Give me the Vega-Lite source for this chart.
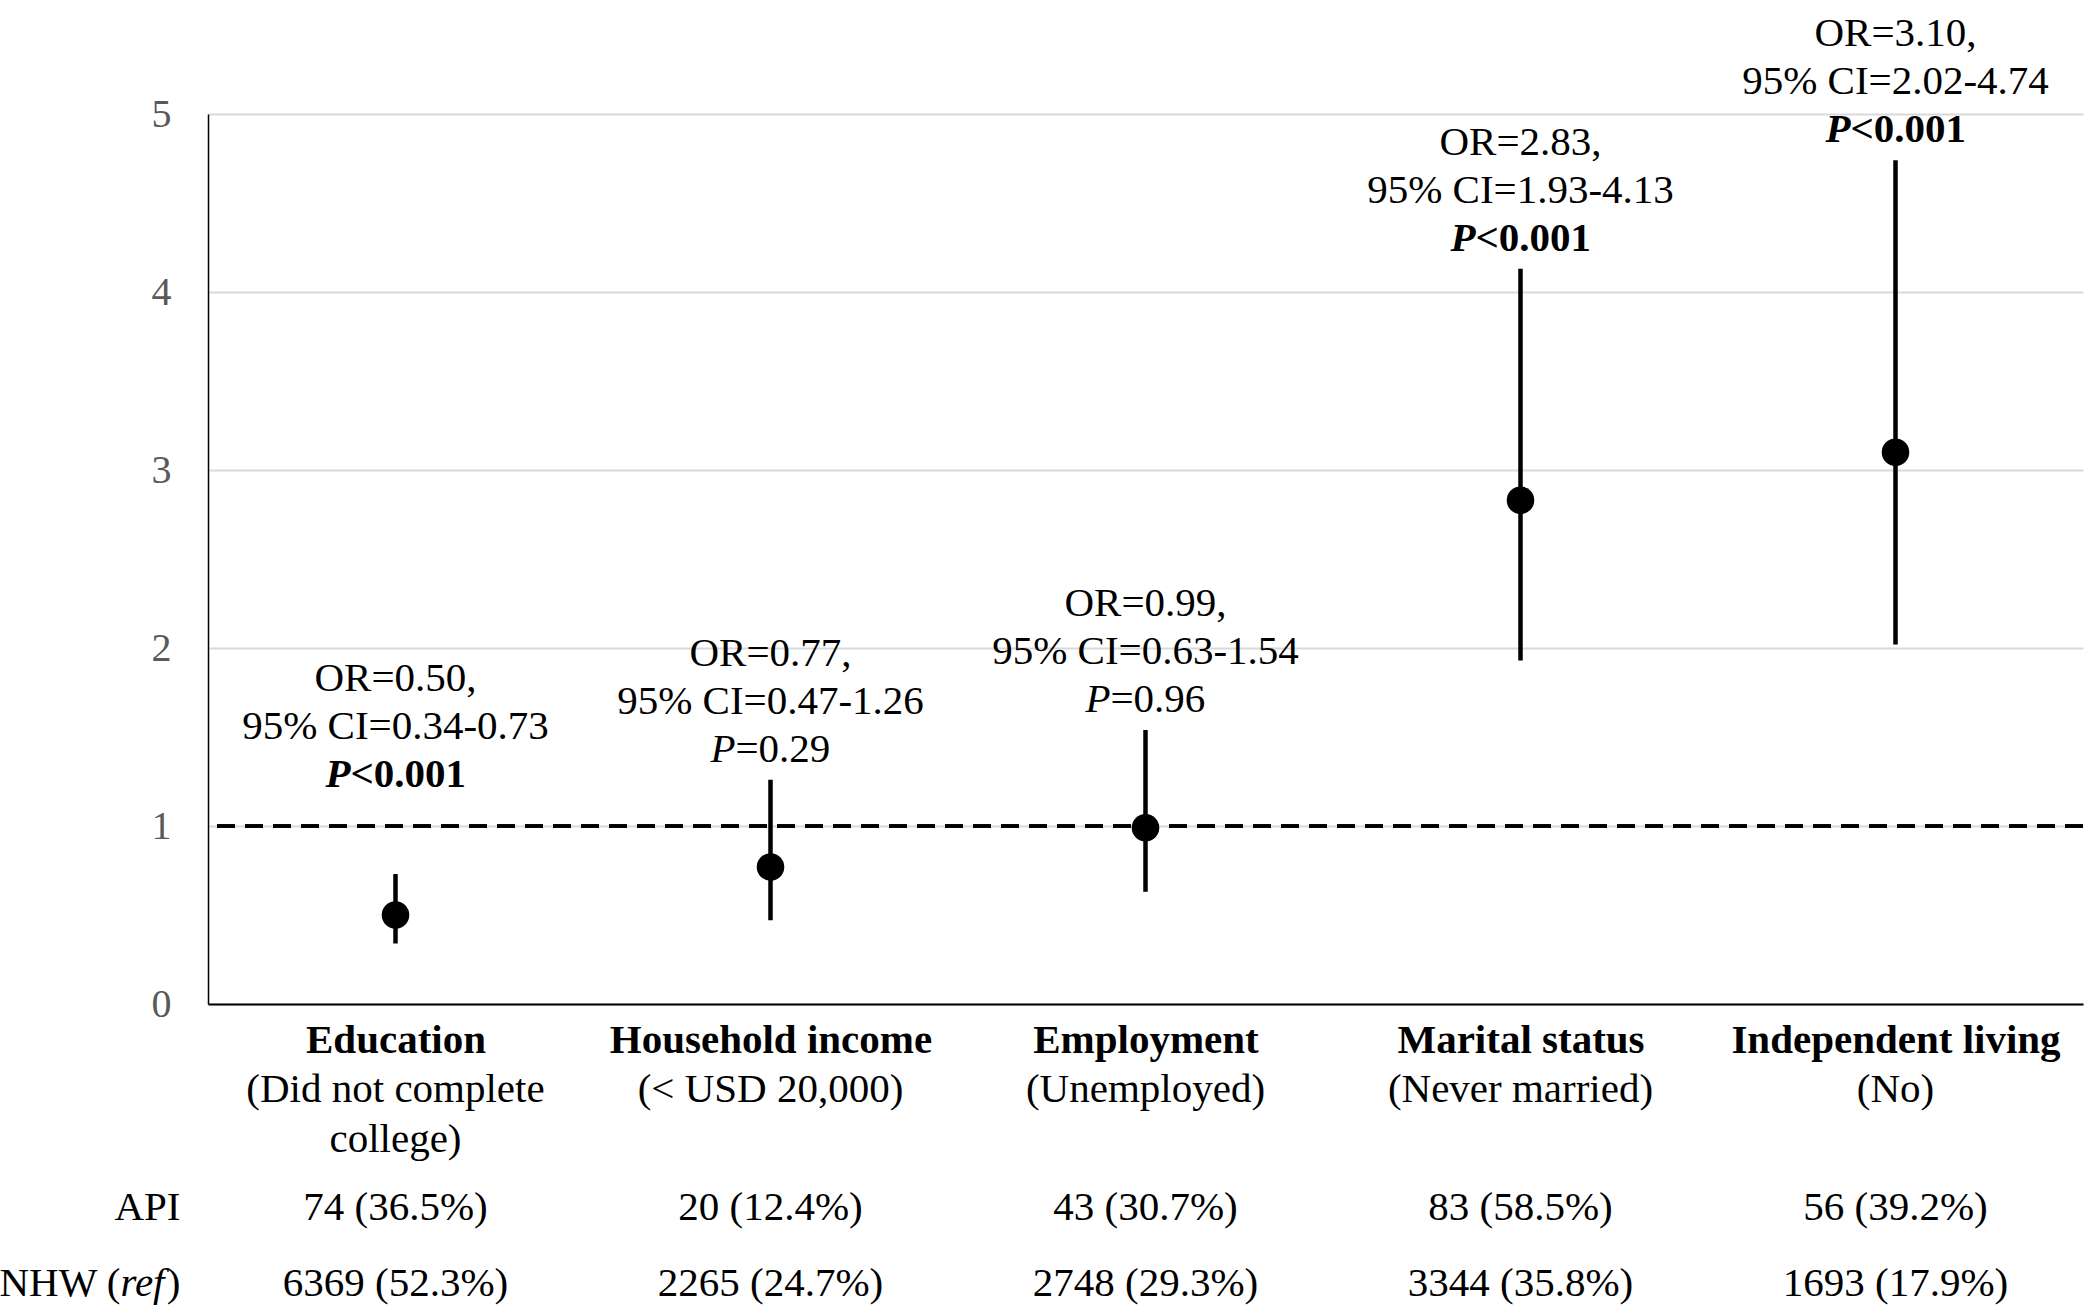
{
  "$schema": "https://vega.github.io/schema/vega-lite/v6.json",
  "width": 1875,
  "height": 890,
  "autosize": {"type": "none"},
  "padding": {"left": 208, "top": 114, "right": 17, "bottom": 301},
  "background": "white",
  "config": {
    "view": {"stroke": null},
    "font": "Liberation Serif",
    "text": {"font": "Liberation Serif", "fontSize": 41, "color": "#000000"}
  },
  "data": {
    "values": [
      {"cat": "Education", "sub": "(Did not complete\ncollege)", "or": 0.50, "lo": 0.34, "hi": 0.73, "orLabel": "OR=0.50,", "ciLabel": "95% CI=0.34-0.73", "pText": "<0.001", "sig": true, "api": "74 (36.5%)", "nhw": "6369 (52.3%)"},
      {"cat": "Household income", "sub": "(< USD 20,000)", "or": 0.77, "lo": 0.47, "hi": 1.26, "orLabel": "OR=0.77,", "ciLabel": "95% CI=0.47-1.26", "pText": "=0.29", "sig": false, "api": "20 (12.4%)", "nhw": "2265 (24.7%)"},
      {"cat": "Employment", "sub": "(Unemployed)", "or": 0.99, "lo": 0.63, "hi": 1.54, "orLabel": "OR=0.99,", "ciLabel": "95% CI=0.63-1.54", "pText": "=0.96", "sig": false, "api": "43 (30.7%)", "nhw": "2748 (29.3%)"},
      {"cat": "Marital status", "sub": "(Never married)", "or": 2.83, "lo": 1.93, "hi": 4.13, "orLabel": "OR=2.83,", "ciLabel": "95% CI=1.93-4.13", "pText": "<0.001", "sig": true, "api": "83 (58.5%)", "nhw": "3344 (35.8%)"},
      {"cat": "Independent living", "sub": "(No)", "or": 3.10, "lo": 2.02, "hi": 4.74, "orLabel": "OR=3.10,", "ciLabel": "95% CI=2.02-4.74", "pText": "<0.001", "sig": true, "api": "56 (39.2%)", "nhw": "1693 (17.9%)"}
    ]
  },
  "transform": [{"calculate": "max(datum.hi, 1.12)", "as": "labelAnchor"}],
  "layer": [
    {
      "mark": {"type": "rule", "strokeDash": [18, 10], "strokeWidth": 3, "color": "#000000"},
      "encoding": {
        "y": {"datum": 1, "type": "quantitative", "scale": {"domain": [0, 5], "nice": false},
          "axis": {"title": null, "values": [0, 1, 2, 3, 4, 5], "format": "d", "grid": true, "gridColor": "#d9d9d9", "gridWidth": 2, "ticks": false, "domainColor": "#000000", "domainWidth": 1.5, "labelFont": "Liberation Serif", "labelFontSize": 40, "labelColor": "#595959", "labelPadding": 37, "labelFlush": false}}
      }
    },
    {
      "mark": {"type": "rule", "strokeWidth": 4.5, "color": "#000000"},
      "encoding": {
        "x": {"field": "cat", "type": "nominal", "sort": null, "scale": {"type": "point", "padding": 0.5},
          "axis": {"title": null, "labelFont": "Liberation Serif", "labelFontSize": 41, "labelFontWeight": "bold", "labelColor": "#000000", "ticks": false, "domainColor": "#000000", "domainWidth": 2, "labelPadding": 16, "grid": false, "labelAngle": 0, "labelLimit": 0, "labelOverlap": false}},
        "y": {"field": "lo", "type": "quantitative"},
        "y2": {"field": "hi"}
      }
    },
    {
      "mark": {"type": "point", "filled": true, "size": 760, "color": "#000000", "opacity": 1},
      "encoding": {
        "x": {"field": "cat", "type": "nominal", "sort": null},
        "y": {"field": "or", "type": "quantitative"}
      }
    },
    {
      "mark": {"type": "text", "baseline": "middle", "dy": -126},
      "encoding": {
        "x": {"field": "cat", "type": "nominal", "sort": null},
        "y": {"field": "labelAnchor", "type": "quantitative"},
        "text": {"field": "orLabel"}
      }
    },
    {
      "mark": {"type": "text", "baseline": "middle", "dy": -78},
      "encoding": {
        "x": {"field": "cat", "type": "nominal", "sort": null},
        "y": {"field": "labelAnchor", "type": "quantitative"},
        "text": {"field": "ciLabel"}
      }
    },
    {
      "transform": [{"filter": "datum.sig"}],
      "mark": {"type": "text", "baseline": "middle", "dy": -30, "dx": -45, "align": "right", "fontWeight": "bold", "fontStyle": "italic"},
      "encoding": {
        "x": {"field": "cat", "type": "nominal", "sort": null},
        "y": {"field": "labelAnchor", "type": "quantitative"},
        "text": {"value": "P"}
      }
    },
    {
      "transform": [{"filter": "datum.sig"}],
      "mark": {"type": "text", "baseline": "middle", "dy": -30, "dx": -45, "align": "left", "fontWeight": "bold"},
      "encoding": {
        "x": {"field": "cat", "type": "nominal", "sort": null},
        "y": {"field": "labelAnchor", "type": "quantitative"},
        "text": {"field": "pText"}
      }
    },
    {
      "transform": [{"filter": "!datum.sig"}],
      "mark": {"type": "text", "baseline": "middle", "dy": -30, "dx": -35, "align": "right", "fontStyle": "italic"},
      "encoding": {
        "x": {"field": "cat", "type": "nominal", "sort": null},
        "y": {"field": "labelAnchor", "type": "quantitative"},
        "text": {"value": "P"}
      }
    },
    {
      "transform": [{"filter": "!datum.sig"}],
      "mark": {"type": "text", "baseline": "middle", "dy": -30, "dx": -35, "align": "left"},
      "encoding": {
        "x": {"field": "cat", "type": "nominal", "sort": null},
        "y": {"field": "labelAnchor", "type": "quantitative"},
        "text": {"field": "pText"}
      }
    },
    {
      "mark": {"type": "text", "baseline": "top", "dy": 66, "lineBreak": "\n", "lineHeight": 50},
      "encoding": {
        "x": {"field": "cat", "type": "nominal", "sort": null},
        "y": {"datum": 0, "type": "quantitative"},
        "text": {"field": "sub"}
      }
    },
    {
      "mark": {"type": "text", "baseline": "middle", "dy": 204},
      "encoding": {
        "x": {"field": "cat", "type": "nominal", "sort": null},
        "y": {"datum": 0, "type": "quantitative"},
        "text": {"field": "api"}
      }
    },
    {
      "mark": {"type": "text", "baseline": "middle", "dy": 280},
      "encoding": {
        "x": {"field": "cat", "type": "nominal", "sort": null},
        "y": {"datum": 0, "type": "quantitative"},
        "text": {"field": "nhw"}
      }
    },
    {
      "data": {"values": [{"lab": "API"}]},
      "mark": {"type": "text", "baseline": "middle", "dy": 204, "dx": -215, "align": "right"},
      "encoding": {
        "x": {"datum": "Education", "type": "nominal"},
        "y": {"datum": 0, "type": "quantitative"},
        "text": {"field": "lab"}
      }
    },
    {
      "data": {"values": [{"lab": "NHW ("}]},
      "mark": {"type": "text", "baseline": "middle", "dy": 280, "dx": -275, "align": "right"},
      "encoding": {
        "x": {"datum": "Education", "type": "nominal"},
        "y": {"datum": 0, "type": "quantitative"},
        "text": {"field": "lab"}
      }
    },
    {
      "data": {"values": [{"lab": "ref"}]},
      "mark": {"type": "text", "baseline": "middle", "dy": 280, "dx": -231, "align": "right", "fontStyle": "italic"},
      "encoding": {
        "x": {"datum": "Education", "type": "nominal"},
        "y": {"datum": 0, "type": "quantitative"},
        "text": {"field": "lab"}
      }
    },
    {
      "data": {"values": [{"lab": ")"}]},
      "mark": {"type": "text", "baseline": "middle", "dy": 280, "dx": -215, "align": "right"},
      "encoding": {
        "x": {"datum": "Education", "type": "nominal"},
        "y": {"datum": 0, "type": "quantitative"},
        "text": {"field": "lab"}
      }
    }
  ]
}
